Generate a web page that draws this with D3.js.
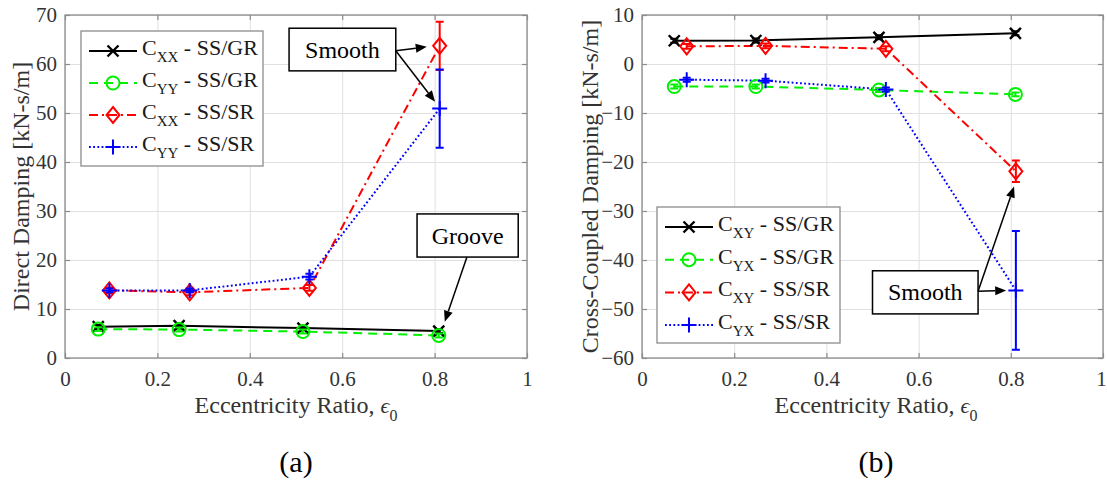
<!DOCTYPE html>
<html>
<head>
<meta charset="utf-8">
<script src="https://cdn.jsdelivr.net/npm/d3@7"></script>
</head>
<body style="margin:0;background:#fff">
<svg id="chart" width="1107" height="482"></svg>
<script>
// ---------------- DATA ----------------
const xTicks = [0, 0.2, 0.4, 0.6, 0.8, 1];
const xTickLabels = ["0", "0.2", "0.4", "0.6", "0.8", "1"];
const directTicks = [0, 10, 20, 30, 40, 50, 60, 70];
const crossTicks = [-60, -50, -40, -30, -20, -10, 0, 10];

// Panel (a): direct damping
const eccGR_a = [0.072, 0.247, 0.515, 0.809];
const eccSR_a = [0.096, 0.270, 0.529, 0.811];
const Cxx_GR = [6.4, 6.6, 6.1, 5.5];
const Cxx_GR_err = [0.4, 0.4, 0.4, 0.4];
const Cyy_GR = [5.9, 5.8, 5.4, 4.6];
const Cyy_GR_err = [0.4, 0.4, 0.4, 0.4];
const Cxx_SR = [13.8, 13.4, 14.3, 63.7];
const Cxx_SR_err = [0.6, 0.6, 0.6, 4.9];
const Cyy_SR = [13.8, 13.8, 16.6, 50.9];
const Cyy_SR_err = [0.4, 0.4, 0.6, 8.0];

// Panel (b): cross-coupled damping
const eccGR_b = [0.070, 0.247, 0.514, 0.810];
const eccSR_b = [0.097, 0.268, 0.529, 0.811];
const Cxy_GR = [4.75, 4.8, 5.45, 6.27];
const Cxy_GR_err = [0.4, 0.4, 0.4, 0.4];
const Cyx_GR = [-4.6, -4.6, -5.3, -6.2];
const Cyx_GR_err = [0.4, 0.4, 0.4, 0.4];
const Cxy_SR = [3.6, 3.7, 3.1, -21.9];
const Cxy_SR_err = [0.5, 0.5, 0.5, 2.2];
const Cyx_SR = [-3.2, -3.4, -5.2, -46.2];
const Cyx_SR_err = [0.4, 0.4, 0.4, 12.1];

const legendA = [["XX", "SS/GR"], ["YY", "SS/GR"], ["XX", "SS/SR"], ["YY", "SS/SR"]];
const legendB = [["XY", "SS/GR"], ["YX", "SS/GR"], ["XY", "SS/SR"], ["YX", "SS/SR"]];

// ---------------- STYLES ----------------
const seriesStyle = [
  { color: "#000000", dash: null, marker: "x" },
  { color: "#00f000", dash: "9,6", marker: "o" },
  { color: "#ff0000", dash: "9,4,2,4", marker: "d" },
  { color: "#0000ff", dash: "1.8,2.4", marker: "+" }
];
const SERIF = '"Liberation Serif"';

const svg = d3.select("#chart");

function markerPath(type, cx, cy) {
  const p = d3.path();
  if (type === "x") {
    const s = 5.5;
    p.moveTo(cx - s, cy - s); p.lineTo(cx + s, cy + s);
    p.moveTo(cx - s, cy + s); p.lineTo(cx + s, cy - s);
  } else if (type === "o") {
    p.moveTo(cx + 6.5, cy); p.arc(cx, cy, 6.5, 0, 2 * Math.PI);
  } else if (type === "d") {
    p.moveTo(cx, cy - 8); p.lineTo(cx + 6.5, cy); p.lineTo(cx, cy + 8); p.lineTo(cx - 6.5, cy); p.closePath();
  } else if (type === "+") {
    const s = 7.5;
    p.moveTo(cx - s, cy); p.lineTo(cx + s, cy);
    p.moveTo(cx, cy - s); p.lineTo(cx, cy + s);
  }
  return p.toString();
}

function drawPanel(opts) {
  const { x, y, yTicks, series, legend, legendBox, yLabel, yLabelX, panelLabel, labelCx } = opts;
  const [x0, x1] = x.range();
  const [y0, y1] = y.range(); // y0 bottom, y1 top
  const g = svg.append("g");

  // grid
  g.append("g").attr("transform", `translate(0,${y0})`)
    .call(d3.axisBottom(x).tickValues(xTicks).tickSize(-(y0 - y1)).tickFormat(""))
    .call(a => a.select(".domain").remove())
    .call(a => a.selectAll("line").attr("stroke", "#e0e0e0").attr("stroke-width", 1));
  g.append("g").attr("transform", `translate(${x0},0)`)
    .call(d3.axisLeft(y).tickValues(yTicks).tickSize(-(x1 - x0)).tickFormat(""))
    .call(a => a.select(".domain").remove())
    .call(a => a.selectAll("line").attr("stroke", "#e0e0e0").attr("stroke-width", 1));

  // box
  g.append("rect").attr("x", x0).attr("y", y1).attr("width", x1 - x0).attr("height", y0 - y1)
    .attr("fill", "none").attr("stroke", "#8c8c8c").attr("stroke-width", 1.3);

  // axes with inward ticks
  const axB = g.append("g").attr("transform", `translate(0,${y0})`)
    .call(d3.axisBottom(x).tickValues(xTicks).tickSizeInner(-5).tickSizeOuter(0).tickPadding(13)
      .tickFormat((d, i) => xTickLabels[i]));
  const axT = g.append("g").attr("transform", `translate(0,${y1})`)
    .call(d3.axisTop(x).tickValues(xTicks).tickSizeInner(-5).tickSizeOuter(0).tickFormat(""));
  const axL = g.append("g").attr("transform", `translate(${x0},0)`)
    .call(d3.axisLeft(y).tickValues(yTicks).tickSizeInner(-5).tickSizeOuter(0).tickPadding(8));
  const axR = g.append("g").attr("transform", `translate(${x1},0)`)
    .call(d3.axisRight(y).tickValues(yTicks).tickSizeInner(-5).tickSizeOuter(0).tickFormat(""));
  [axB, axT, axL, axR].forEach(a => {
    a.select(".domain").remove();
    a.selectAll("line").attr("stroke", "#8c8c8c").attr("stroke-width", 1.2);
    a.selectAll("text").attr("fill", "#333").style("font-size", "21px");
  });
  if (x1 > 1090) axB.selectAll("text").filter(d => d === 1).attr("dx", -2);

  // series
  const plot = g.append("g");
  series.forEach((s, si) => {
    const st = seriesStyle[si];
    const pts = s.ecc.map((e, i) => ({ e, v: s.val[i], err: s.err[i] }));
    plot.append("path")
      .attr("d", d3.line().x(d => x(d.e)).y(d => y(d.v))(pts))
      .attr("fill", "none").attr("stroke", st.color).attr("stroke-width", 2)
      .attr("stroke-dasharray", st.dash);
  });
  series.forEach((s, si) => {
    const st = seriesStyle[si];
    const pts = s.ecc.map((e, i) => ({ e, v: s.val[i], err: s.err[i] }));
    const eb = plot.append("g").attr("stroke", st.color).attr("stroke-width", 2).attr("fill", "none");
    pts.forEach(d => {
      const cx = x(d.e), ya = y(d.v + d.err), yb = y(d.v - d.err), cw = 4;
      eb.append("path").attr("d", `M${cx},${ya}L${cx},${yb}M${cx - cw},${ya}L${cx + cw},${ya}M${cx - cw},${yb}L${cx + cw},${yb}`);
    });
    plot.append("g").selectAll("path").data(pts).join("path")
      .attr("d", d => markerPath(st.marker, x(d.e), y(d.v)))
      .attr("fill", "none").attr("stroke", st.color)
      .attr("stroke-width", st.marker === "x" ? 2.4 : 2);
  });

  // legend
  const lb = legendBox;
  const lg = g.append("g");
  lg.append("rect").attr("x", lb.x).attr("y", lb.y).attr("width", lb.w).attr("height", lb.h)
    .attr("fill", "#fff").attr("stroke", "#8c8c8c").attr("stroke-width", 1.3);
  legend.forEach((item, i) => {
    const st = seriesStyle[i];
    const ly = lb.y + lb.pad + i * lb.step;
    const lx = lb.x + 8;
    lg.append("line").attr("x1", lx).attr("x2", lx + 48).attr("y1", ly).attr("y2", ly)
      .attr("stroke", st.color).attr("stroke-width", 2).attr("stroke-dasharray", st.dash);
    lg.append("path").attr("d", markerPath(st.marker, lx + 24, ly)).attr("fill", "none")
      .attr("stroke", st.color).attr("stroke-width", st.marker === "x" ? 2.4 : 2);
    const t = lg.append("text").attr("x", lx + 53).attr("y", ly + 4).attr("fill", "#1a1a1a")
      .style("font-size", "22px");
    t.append("tspan").text("C");
    t.append("tspan").attr("dy", 7).style("font-size", "15px").text(item[0]);
    t.append("tspan").attr("dy", -7).text(" - " + item[1]);
  });

  // axis labels
  g.append("text").attr("transform", `translate(${yLabelX},${(y0 + y1) / 2}) rotate(-90)`)
    .attr("text-anchor", "middle").attr("fill", "#333").style("font-size", "24px").text(yLabel);
  const xl = g.append("text").attr("x", labelCx).attr("y", 413).attr("text-anchor", "middle")
    .attr("fill", "#333").style("font-size", "24px");
  xl.append("tspan").text("Eccentricity Ratio, ");
  xl.append("tspan").style("font-style", "italic").style("font-size", "22px").text("\u03F5");
  xl.append("tspan").attr("dy", 8).style("font-size", "16px").text("0");
  g.append("text").attr("x", labelCx).attr("y", 472).attr("text-anchor", "middle")
    .attr("fill", "#000").style("font-size", "30px").text(panelLabel);

  return g;
}

function annotate(g, x, y, box, text, arrows) {
  const bx0 = x(box.x0), bx1 = x(box.x1), by0 = y(box.y0), by1 = y(box.y1);
  g.append("rect").attr("x", bx0).attr("y", by0).attr("width", bx1 - bx0).attr("height", by1 - by0)
    .attr("fill", "#fff").attr("stroke", "#000").attr("stroke-width", 1.5);
  g.append("text").attr("x", (bx0 + bx1) / 2).attr("y", (by0 + by1) / 2 + 8).attr("text-anchor", "middle")
    .attr("fill", "#000").style("font-size", "24px").text(text);
  arrows.forEach(a => {
    const sx = x(a.from[0]), sy = y(a.from[1]), tx = x(a.to[0]), ty = y(a.to[1]);
    const ang = Math.atan2(ty - sy, tx - sx), L = 11, W = 4.5;
    const bxh = tx - L * Math.cos(ang), byh = ty - L * Math.sin(ang);
    g.append("line").attr("x1", sx).attr("y1", sy).attr("x2", bxh).attr("y2", byh)
      .attr("stroke", "#000").attr("stroke-width", 1.5);
    const px = -Math.sin(ang) * W, py = Math.cos(ang) * W;
    g.append("path").attr("d", `M${tx},${ty}L${bxh + px},${byh + py}L${bxh - px},${byh - py}Z`).attr("fill", "#000");
  });
}

// ---------------- PANEL A ----------------
const xA = d3.scaleLinear().domain([0, 1]).range([65, 527]);
const yA = d3.scaleLinear().domain([0, 70]).range([358, 15]);
const gA = drawPanel({
  x: xA, y: yA, yTicks: directTicks,
  series: [
    { ecc: eccGR_a, val: Cxx_GR, err: Cxx_GR_err },
    { ecc: eccGR_a, val: Cyy_GR, err: Cyy_GR_err },
    { ecc: eccSR_a, val: Cxx_SR, err: Cxx_SR_err },
    { ecc: eccSR_a, val: Cyy_SR, err: Cyy_SR_err }
  ],
  legend: legendA,
  legendBox: { x: 81, y: 31, w: 182, h: 135, pad: 20, step: 32 },
  yLabel: "Direct Damping [kN-s/m]", yLabelX: 29, panelLabel: "(a)", labelCx: 296
});
annotate(gA, xA, yA, { x0: 0.485, x1: 0.716, y0: 67.3, y1: 58.6 }, "Smooth",
  [{ from: [0.716, 62.7], to: [0.783, 63.5] }, { from: [0.716, 62.7], to: [0.801, 52.3] }]);
annotate(gA, xA, yA, { x0: 0.762, x1: 0.981, y0: 29.4, y1: 20.6 }, "Groove",
  [{ from: [0.870, 20.6], to: [0.822, 7.4] }]);

// ---------------- PANEL B ----------------
const xB = d3.scaleLinear().domain([0, 1]).range([642, 1103]);
const yB = d3.scaleLinear().domain([-60, 10]).range([358, 15]);
const gB = drawPanel({
  x: xB, y: yB, yTicks: crossTicks,
  series: [
    { ecc: eccGR_b, val: Cxy_GR, err: Cxy_GR_err },
    { ecc: eccGR_b, val: Cyx_GR, err: Cyx_GR_err },
    { ecc: eccSR_b, val: Cxy_SR, err: Cxy_SR_err },
    { ecc: eccSR_b, val: Cyx_SR, err: Cyx_SR_err }
  ],
  legend: legendB,
  legendBox: { x: 657, y: 207, w: 183, h: 136, pad: 20, step: 32.7 },
  yLabel: "Cross-Coupled Damping [kN-s/m]", yLabelX: 598, panelLabel: "(b)", labelCx: 876
});
annotate(gB, xB, yB, { x0: 0.50, x1: 0.729, y0: -42.2, y1: -51.0 }, "Smooth",
  [{ from: [0.729, -46.4], to: [0.79, -46.2] }, { from: [0.729, -46.4], to: [0.807, -25.0] }]);

// apply the serif font to every text element
svg.selectAll("g").attr("font-family", null);
svg.selectAll("text").style("font-family", SERIF);
</script>
</body>
</html>
